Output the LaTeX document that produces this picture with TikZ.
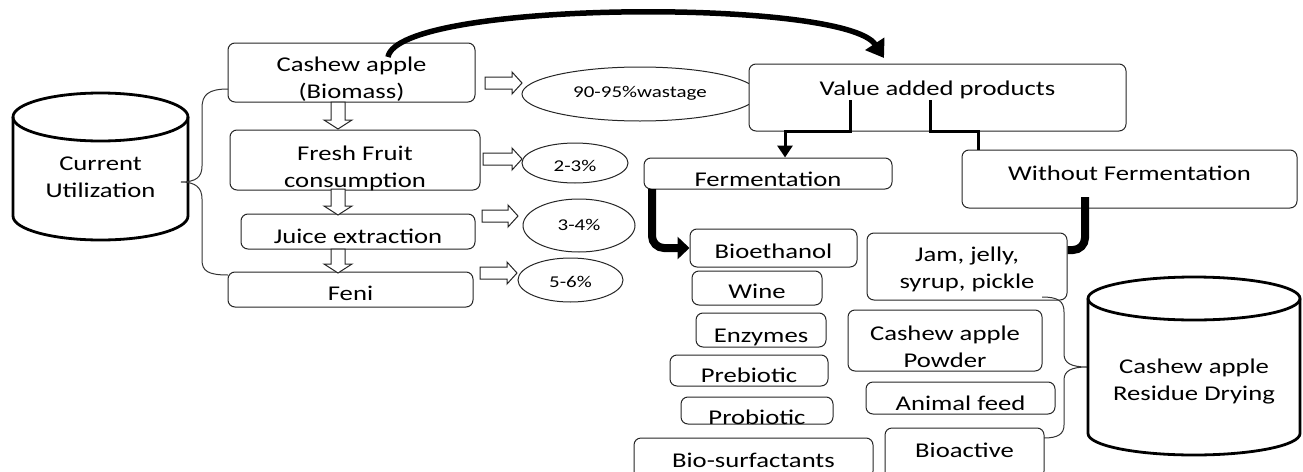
\documentclass[tikz,border=0pt]{standalone}
\usepackage{fontspec}
\newfontfamily\cf{Carlito}[FakeStretch=1.27]
\usetikzlibrary{shapes.geometric,arrows.meta}
% hollow block arrows: right (x1,x2,y) and down (x,y1,y2)
\newcommand{\blockright}[3]{\draw[hollow] (#1,#3-6) -- (#2-10,#3-6) -- (#2-10,#3-11) -- (#2,#3) -- (#2-10,#3+11) -- (#2-10,#3+6) -- (#1,#3+6) -- cycle;}
\newcommand{\blockdown}[3]{\draw[hollow] (#1-7,#2) -- (#1-7,#3-9) -- (#1-14,#3-9) -- (#1,#3) -- (#1+14,#3-9) -- (#1+7,#3-9) -- (#1+7,#2) -- cycle;}
\begin{document}
\begin{tikzpicture}[x=1pt,y=-1pt,
  box/.style={draw=black!85, line width=1pt, rounded corners=7pt, fill=white, inner sep=0pt},
  txt/.style={anchor=base, inner sep=0pt, align=center, font=\cf\fontsize{21}{27}\selectfont},
  stxt/.style={anchor=base, inner sep=0pt, font=\cf\fontsize{16.5}{20}\selectfont},
  oval/.style={ellipse, draw=black!85, line width=1pt, fill=white, inner sep=0pt},
  hollow/.style={draw=black!85, line width=1pt, fill=white, line join=miter},
  brace/.style={draw=black!80, line width=1pt},
  cyl/.style={draw=black, line width=2.8pt},
  flow/.style={line width=3pt},
  bigflow/.style={line width=8pt, rounded corners=12pt},
]
\useasboundingbox (0,0) rectangle (1303,471);
\clip (0,0) rectangle (1303,471);
\fill[white] (0,0) rectangle (1303,471);

% left cylinder
\draw[cyl] (13,117) -- (13,216) arc[start angle=180, end angle=0, x radius=87.5, y radius=24] -- (188,117);
\draw[cyl] (100.5,117) ellipse[x radius=87.5, y radius=24];
\node[txt] (cu) at (100.5,197) {Current\\Utilization};

% left column boxes
\node[box, minimum width=247pt, minimum height=59pt] (cash) at (351.5,72.5) {};
\node[box, minimum width=250pt, minimum height=60pt] (fresh) at (355,160) {};
\node[box, minimum width=234pt, minimum height=35pt] (juice) at (358,231.5) {};
\node[box, minimum width=245pt, minimum height=35pt] (feni) at (350.5,289.5) {};
\node[txt] (cashT) at (351.5,98) {Cashew apple\\(Biomass)};
\node[txt] (freshT) at (355,187) {Fresh Fruit\\consumption};
\node[txt] (juiceT) at (358,243) {Juice extraction};
\node[txt] (feniT) at (350.5,300) {Feni};

% left brace
\draw[brace] (228,89) .. controls (208,89) and (202,95) .. (202,108) -- (202,166)
  .. controls (202,177) and (196,182) .. (181,182)
  .. controls (196,182) and (202,188) .. (202,199) -- (202,260)
  .. controls (202,271) and (208,275) .. (228,275);

% down hollow arrows
\blockdown{338}{102}{129}
\blockdown{338}{189}{215}
\blockdown{338}{249}{273}

% right hollow arrows
\blockright{485}{522}{83}
\blockright{483}{522}{159}
\blockright{482}{518}{216}
\blockright{480}{517}{273}

% ellipses
\node[oval, minimum width=236pt, minimum height=54pt] (e1) at (640,94) {};
\node[stxt] (e1T) at (640,97) {90-95\%wastage};
\node[oval, minimum width=106pt, minimum height=40pt] (e2) at (575,163) {};
\node[stxt] (e2T) at (575,171) {2-3\%};
\node[oval, minimum width=112pt, minimum height=53pt] (e3) at (579,225.5) {};
\node[stxt] (e3T) at (579,230) {3-4\%};
\node[oval, minimum width=105pt, minimum height=44pt] (e4) at (570.5,280) {};
\node[stxt] (e4T) at (570.5,287) {5-6\%};

% value added
\node[box, minimum width=377pt, minimum height=67pt] (val) at (937.5,97.5) {};
\node[txt] (valT) at (937.5,95) {Value added products};
\node[box, minimum width=248pt, minimum height=31pt] (ferm) at (768,173.5) {};
\node[txt] (fermT) at (768,186) {Fermentation};
\node[box, minimum width=335pt, minimum height=58pt] (wf) at (1129.5,179) {};
\node[txt] (wfT) at (1129.5,180) {Without Fermentation};

% fermentation products
\node[box, minimum width=167pt, minimum height=38pt] (bio) at (773.5,248) {};
\node[txt] (bioT) at (773.5,258) {Bioethanol};
\node[box, minimum width=130pt, minimum height=34pt] (wine) at (757,288) {};
\node[txt] (wineT) at (757,298) {Wine};
\node[box, minimum width=130pt, minimum height=34pt] (enz) at (761,330) {};
\node[txt] (enzT) at (761,342) {Enzymes};
\node[box, minimum width=158pt, minimum height=31pt] (preb) at (749,370.5) {};
\node[txt] (prebT) at (749,382) {Prebiotic};
\node[box, minimum width=152pt, minimum height=27pt] (prob) at (757,410.5) {};
\node[txt] (probT) at (757,424) {Probiotic};
\node[box, minimum width=239pt, minimum height=40pt] (bios) at (753.5,458) {};
\node[txt] (biosT) at (753.5,467) {Bio-surfactants};

% without fermentation products
\node[box, minimum width=200pt, minimum height=67pt] (jam) at (967,266.5) {};
\node[txt] (jamT) at (967,288) {Jam, jelly,\\syrup, pickle};
\node[box, minimum width=194pt, minimum height=61pt] (powd) at (945,340.5) {};
\node[txt] (powdT) at (945,367) {Cashew apple\\Powder};
\node[box, minimum width=189pt, minimum height=32pt] (anim) at (960.5,398) {};
\node[txt] (animT) at (960.5,410) {Animal feed};
\node[box, minimum width=159pt, minimum height=50pt] (bioa) at (964.5,453) {};
\node[txt] (bioaT) at (964.5,457) {Bioactive};

% right brace
\draw[brace] (1042,297) .. controls (1058,297) and (1064,301) .. (1064,312) -- (1064,354)
  .. controls (1064,363) and (1071,367) .. (1087,367)
  .. controls (1071,367) and (1064,371) .. (1064,380) -- (1064,425)
  .. controls (1064,434) and (1058,438) .. (1044,438);

% right cylinder
\draw[cyl] (1088,298.5) -- (1088,433.5) arc[start angle=180, end angle=0, x radius=106, y radius=21.5] -- (1300,298.5);
\draw[cyl] (1194,298.5) ellipse[x radius=106, y radius=21.5];
\node[txt] (rcT) at (1194,400) {Cashew apple\\Residue Drying};

% connectors
\coordinate (v1) at (850,100);
\coordinate (v2) at (930,100);
\draw[flow, -{Triangle[length=12pt,width=15pt]}] (v1) -- (850,131) -- (785,131) -- (785,131 |- ferm.north);
\draw[flow] (v2) -- (930,131) -- (978,131) -- (978,131 |- wf.north);
\coordinate (f1) at (652,189);
\draw[bigflow, -{Triangle[length=12pt,width=22pt]}] (f1) |- (bio.west);
\coordinate (w1) at (1085,197);
\draw[bigflow] (w1) |- (jam.east |- 0,250);

% top curved arrow
\coordinate (c1) at (388,57);
\draw[line width=5.5pt, -{Triangle[length=17pt,width=22pt]}] (c1) .. controls (398,0) and (845,-2) .. (884,58);
\end{tikzpicture}
\end{document}
